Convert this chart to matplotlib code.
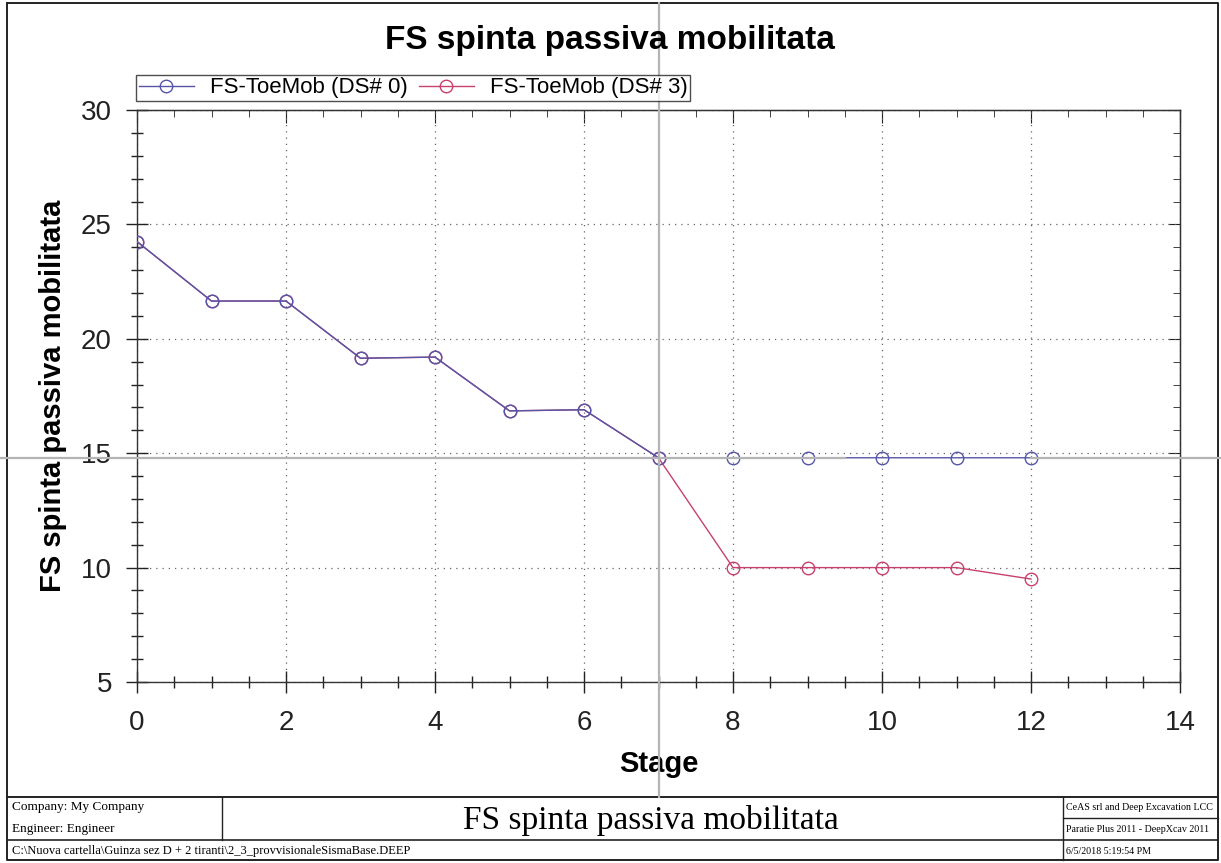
import matplotlib
matplotlib.use("Agg")
import matplotlib.pyplot as plt
from matplotlib.ticker import MultipleLocator

# data
stages = list(range(13))
fs_ds0 = [24.25, 21.65, 21.65, 19.15, 19.2, 16.85, 16.9, 14.8, 14.8, 14.8, 14.8, 14.8, 14.8]
fs_ds3 = [24.25, 21.65, 21.65, 19.15, 19.2, 16.85, 16.9, 14.8, 10.0, 10.0, 10.0, 10.0, 9.5]
cursor_x = 7
cursor_y = 14.8

blue = "#5656a8"
pink = "#c8406e"

plt.rcParams['font.family'] = ['Liberation Sans', 'DejaVu Sans']

W, H = 1221, 863
fig = plt.figure(figsize=(W / 100, H / 100), dpi=100)
fig.patch.set_facecolor("white")

ax = fig.add_axes([137 / W, 1 - 682 / H, (1180 - 137) / W, (682 - 110) / H])

ax.plot(stages, fs_ds3, color=pink, lw=1.0, marker="o", ms=9, mfc="none",
        mec=pink, mew=1.0, label="FS-ToeMob (DS# 3)", zorder=3)
ax.plot(stages, fs_ds0, color=blue, lw=1.0, marker="o", ms=9, mfc="none",
        mec=blue, mew=1.0, label="FS-ToeMob (DS# 0)", zorder=4)

ax.set_xlim(0, 14)
ax.set_ylim(5, 30)
ax.xaxis.set_major_locator(MultipleLocator(2))
ax.xaxis.set_minor_locator(MultipleLocator(0.5))
ax.yaxis.set_major_locator(MultipleLocator(5))
ax.yaxis.set_minor_locator(MultipleLocator(1))
ax.tick_params(which="major", direction="inout", length=16, width=1.0,
               labelsize=20, pad=10, colors="#222222")
ax.tick_params(which="minor", direction="inout", length=8, width=1.0,
               colors="#222222")
ax.tick_params(axis="x", pad=12)
ax.grid(True, which="major", linestyle=(0, (1, 4)), color="#666666", lw=0.9)
for s in ax.spines.values():
    s.set_color("#333333")
    s.set_linewidth(1.0)

# inward ticks on top and right
top = ax.secondary_xaxis("top")
top.xaxis.set_major_locator(MultipleLocator(2))
top.xaxis.set_minor_locator(MultipleLocator(0.5))
top.tick_params(which="major", direction="in", length=9, labeltop=False, colors="#222222")
top.tick_params(which="minor", direction="in", length=5, colors="#222222")
right = ax.secondary_yaxis("right")
right.yaxis.set_major_locator(MultipleLocator(5))
right.yaxis.set_minor_locator(MultipleLocator(1))
right.tick_params(which="major", direction="in", length=9, labelright=False, colors="#222222")
right.tick_params(which="minor", direction="in", length=5, colors="#222222")

ax.set_xlabel("Stage", fontsize=21, fontweight="bold", labelpad=10)
ax.set_ylabel("FS spinta passiva mobilitata", fontsize=21, fontweight="bold", labelpad=10)

handles, labels = ax.get_legend_handles_labels()
leg = fig.legend(handles[::-1], labels[::-1], loc="lower left", ncol=2,
                 bbox_to_anchor=(136 / W, 1 - 101 / H), fontsize=16,
                 frameon=True, fancybox=False, borderpad=0.12,
                 handlelength=2.5, handletextpad=0.7, columnspacing=0.5,
                 borderaxespad=0)
leg.get_frame().set_edgecolor("#222222")
leg.get_frame().set_linewidth(1.0)

fig.text(610 / W, 1 - 40 / H, "FS spinta passiva mobilitata", ha="center",
         va="center", fontsize=24, fontweight="bold")

# overlay in pixel coordinates for frame, cursor and footer
ov = fig.add_axes([0, 0, 1, 1], facecolor="none")
ov.set_xlim(0, W)
ov.set_ylim(H, 0)
ov.axis("off")

# cursor cross lines (data coordinates mapped through the axes)
to_ov = ov.transData.inverted()
cx, cy = to_ov.transform(ax.transData.transform((cursor_x, cursor_y)))
gap_a, _ = to_ov.transform(ax.transData.transform((9.5, cursor_y)))
gap_b, _ = to_ov.transform(ax.transData.transform((12, cursor_y)))
cur = "#b4b4b4"
ov.plot([cx, cx], [3, 797], color=cur, lw=1.6, zorder=5)
ov.plot([0, gap_a], [cy, cy], color=cur, lw=1.6, zorder=5)
ov.plot([gap_b, W], [cy, cy], color=cur, lw=1.6, zorder=5)

k = "#222222"
ov.plot([7, 1218, 1218, 7, 7], [3, 3, 860, 860, 3], color=k, lw=1.4)
ov.plot([7, 1218], [797, 797], color=k, lw=1.4)
ov.plot([7, 1218], [840, 840], color=k, lw=1.2)
ov.plot([222, 222], [797, 840], color=k, lw=1.0)
ov.plot([1063, 1063], [797, 860], color=k, lw=1.0)
ov.plot([1063, 1218], [818, 818], color=k, lw=1.0)

serif = ['Liberation Serif', 'DejaVu Serif']
ov.text(12, 807, "Company: My Company", fontsize=9.5, family=serif, va="center")
ov.text(12, 829, "Engineer: Engineer", fontsize=9.5, family=serif, va="center")
ov.text(12, 851, "C:\\Nuova cartella\\Guinza sez D + 2 tiranti\\2_3_provvisionaleSismaBase.DEEP",
        fontsize=9, family=serif, va="center")
ov.text(651, 820, "FS spinta passiva mobilitata", fontsize=24, family=serif,
        ha="center", va="center")
ov.text(1066, 807, "CeAS srl and Deep Excavation LCC", fontsize=7.2, family=serif, va="center")
ov.text(1066, 829, "Paratie Plus 2011 - DeepXcav 2011", fontsize=7.2, family=serif, va="center")
ov.text(1066, 851, "6/5/2018 5:19:54 PM", fontsize=7.2, family=serif, va="center")

fig.savefig("out.png", dpi=100)
